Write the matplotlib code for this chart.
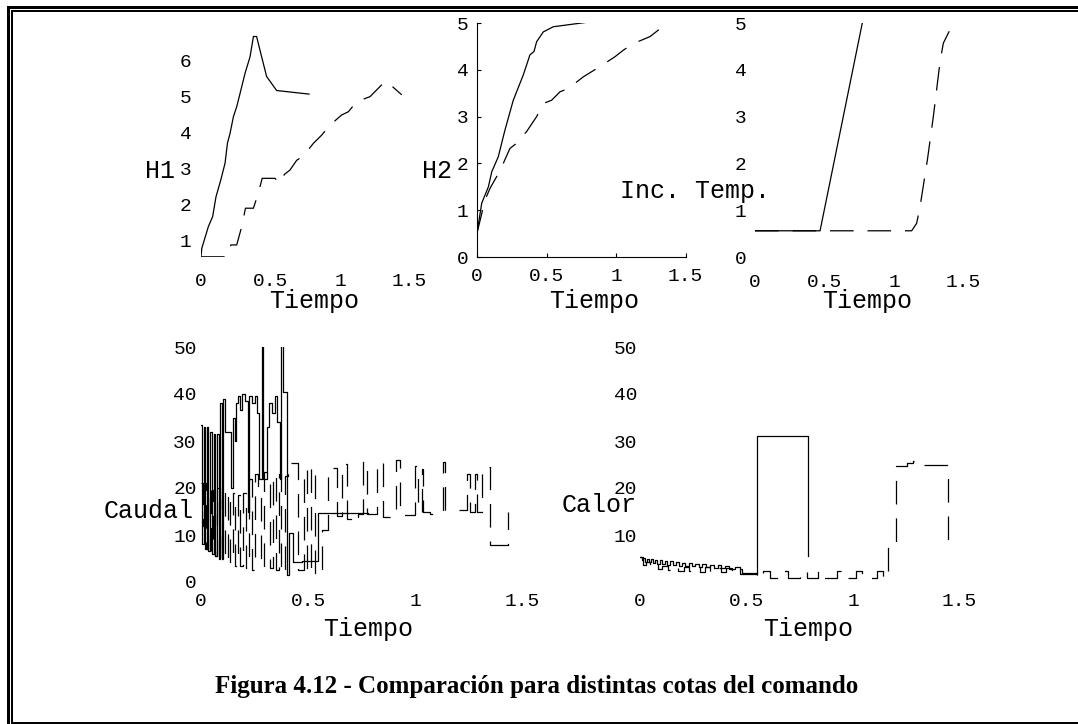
import matplotlib

matplotlib.use("Agg")

import matplotlib.pyplot as plt
from matplotlib.patches import Rectangle

W, H = 1078, 724
MONO = "Liberation Mono"
plt.rcParams["lines.scale_dashes"] = False

# ---- datos ----
x_ticks = [0, 0.5, 1, 1.5]
x_labels = ["0", "0.5", "1", "1.5"]

# H1
t_h1_a = [0.0, 0.006, 0.053, 0.084, 0.108, 0.142, 0.173, 0.19, 0.209, 0.233,
          0.257, 0.281, 0.317, 0.353, 0.377, 0.40, 0.436, 0.472, 0.544, 0.777]
h1_a = [0.56, 0.80, 1.40, 1.68, 2.23, 2.69, 3.16, 3.71, 3.99, 4.45,
        4.73, 5.10, 5.66, 6.12, 6.68, 6.68, 6.12, 5.57, 5.18, 5.08]
t_h1_b = [0.0, 0.19, 0.215, 0.257, 0.293, 0.32, 0.377, 0.412, 0.44, 0.532,
          0.568, 0.60, 0.64, 0.688, 0.736, 0.808, 0.868, 0.928, 1.012, 1.060,
          1.12, 1.216, 1.324, 1.336, 1.444]
h1_b = [0.56, 0.56, 0.89, 0.89, 1.40, 1.91, 1.91, 2.32, 2.74, 2.74,
        2.60, 2.85, 2.97, 3.24, 3.36, 3.71, 3.94, 4.22, 4.50, 4.59,
        4.87, 5.01, 5.43, 5.43, 5.06]

# H2
t_h2_a = [0.0, 0.034, 0.082, 0.106, 0.153, 0.189, 0.201, 0.261, 0.333, 0.381,
          0.41, 0.429, 0.477, 0.549, 0.777]
h2_a = [0.51, 1.15, 1.50, 1.82, 2.14, 2.57, 2.71, 3.35, 3.89, 4.32,
        4.39, 4.60, 4.81, 4.92, 5.01]
t_h2_b = [0.0, 0.058, 0.094, 0.142, 0.189, 0.237, 0.285, 0.357, 0.429, 0.477,
          0.537, 0.597, 0.657, 0.765, 0.885, 0.993, 1.053, 1.125, 1.245, 1.305, 1.388]
h2_b = [0.51, 1.22, 1.47, 1.72, 2.00, 2.32, 2.43, 2.68, 3.00, 3.28,
        3.35, 3.53, 3.60, 3.85, 4.07, 4.28, 4.42, 4.56, 4.71, 4.85, 4.96]

# Inc. Temp.
t_temp_a = [0.0, 0.468, 0.772]
temp_a = [0.56, 0.56, 5.0]
t_temp_b = [0.0, 1.127, 1.163, 1.187, 1.24, 1.283, 1.331, 1.355, 1.427]
temp_b = [0.56, 0.56, 0.72, 1.07, 2.07, 3.0, 4.17, 4.57, 5.0]

# Caudal (escalones)
t_caudal_a = [0.000, 0.006, 0.012, 0.020, 0.027, 0.035, 0.043, 0.051, 0.059, 0.067,
              0.075, 0.083, 0.089, 0.097, 0.103, 0.112, 0.140, 0.150, 0.158, 0.165,
              0.172, 0.182, 0.192, 0.205, 0.218, 0.224, 0.236, 0.250, 0.262, 0.270,
              0.286, 0.292, 0.310, 0.320, 0.330, 0.345, 0.355, 0.370, 0.376, 0.384,
              0.404, 0.410, 0.430, 0.470, 0.545, 0.779]
caudal_a = [33.5, 8, 33, 7, 33, 6.5, 32, 6, 31.5, 5.5,
            31.5, 5, 38, 5, 39, 32, 20, 35, 30, 38,
            39.5, 36.5, 40, 38.5, 15, 39.5, 38, 39.5, 36, 22,
            50.5, 22, 33, 38, 36, 39.5, 34, 22, 50.5, 40.5,
            1.5, 10.5, 4.3, 4.5, 14.6, 14.6]
t_caudal_b = [0.000, 0.008, 0.016, 0.025, 0.035, 0.045, 0.055, 0.066, 0.077, 0.088,
              0.100, 0.112, 0.124, 0.136, 0.148, 0.160, 0.172, 0.184, 0.198, 0.212,
              0.226, 0.240, 0.254, 0.266, 0.280, 0.296, 0.310, 0.322, 0.336, 0.350,
              0.364, 0.376, 0.392, 0.405, 0.420, 0.452, 0.470, 0.480, 0.495, 0.513,
              0.535, 0.567, 0.595, 0.634, 0.657, 0.681, 0.704, 0.735, 0.759, 0.774,
              0.821, 0.852, 0.911, 0.930, 1.000, 1.015, 1.031, 1.039, 1.070, 1.102,
              1.133, 1.140, 1.242, 1.255, 1.280, 1.290, 1.312, 1.350, 1.436]
caudal_b = [21, 12, 21, 7, 20, 6.5, 19.5, 5.5, 20, 5,
            19.5, 4.5, 19, 4, 19, 3.5, 18.5, 3.5, 19, 3,
            22, 2.5, 23, 19.5, 3, 23.5, 22.5, 3, 23, 2.5,
            23, 2, 22.5, 23, 25.4, 2.5, 2.5, 24, 2, 24.5,
            1.5, 11, 24.2, 14, 25.2, 13.5, 12.8, 14.5, 25.7, 14.5,
            25.5, 13.8, 26, 14.3, 24.6, 15, 24, 14.8, 14.4, 14.8,
            25.5, 15.3, 23, 15, 23, 15, 24.5, 7.9, 15]

# Calor (escalones)
t_calor_a = [0.000, 0.008, 0.016, 0.024, 0.032, 0.040, 0.050, 0.060, 0.070, 0.080,
             0.092, 0.104, 0.116, 0.128, 0.140, 0.154, 0.168, 0.182, 0.196, 0.212,
             0.228, 0.244, 0.260, 0.276, 0.292, 0.310, 0.328, 0.346, 0.364, 0.382,
             0.400, 0.420, 0.445, 0.470, 0.548, 0.787]
calor_a = [5.4, 4.6, 5.2, 4.3, 5.0, 4.2, 4.9, 4.0, 4.7, 3.9,
           4.6, 3.8, 4.5, 3.7, 4.4, 3.6, 4.3, 3.5, 4.1, 3.4,
           4.0, 3.3, 3.9, 3.2, 3.8, 3.1, 3.7, 3.0, 3.6, 2.9,
           3.4, 2.8, 3.1, 1.6, 31.1, 5.5]
t_calor_b = [0.000, 0.012, 0.030, 0.045, 0.065, 0.085, 0.105, 0.130, 0.155, 0.180,
             0.205, 0.230, 0.255, 0.280, 0.305, 0.330, 0.355, 0.380, 0.405, 0.430,
             0.455, 0.480, 0.550, 0.576, 0.610, 0.665, 0.696, 0.751, 0.782, 0.834,
             0.860, 0.923, 0.955, 1.014, 1.040, 1.111, 1.142, 1.166, 1.200, 1.252,
             1.283, 1.330, 1.447]
calor_b = [5.4, 3.6, 4.2, 3.1, 3.8, 2.8, 3.5, 2.6, 3.3, 2.4,
           3.2, 2.3, 3.1, 2.2, 3.1, 2.2, 3.0, 2.1, 3.0, 2.0,
           2.8, 1.9, 0.9, 2.4, 0.9, 2.4, 0.9, 2.4, 0.9, 2.4,
           0.9, 2.4, 0.9, 2.4, 0.9, 2.4, 0.9, 8.4, 24.7, 25.4,
           25.7, 24.9, 6.4]

LW = 0.9
DASH = (0, (17, 10))

fig = plt.figure(figsize=(W / 100, H / 100), dpi=100)
fig.patch.set_facecolor("white")


def panel(x0, x1, y_top, y_bot):
    return fig.add_axes([x0 / W, 1 - y_bot / H, (x1 - x0) / W, (y_bot - y_top) / H])


def estilo(ax, yticks, xpad, ypad, ejes=False):
    ax.set_xticks(x_ticks, x_labels)
    ax.set_yticks(yticks, [str(v) for v in yticks])
    for s in ["top", "right"]:
        ax.spines[s].set_visible(False)
    for s in ["left", "bottom"]:
        ax.spines[s].set_visible(ejes)
        ax.spines[s].set_linewidth(0.8)
    if ejes:
        ax.tick_params(axis="both", direction="in", length=3, width=0.8)
    else:
        ax.tick_params(axis="both", length=0)
    ax.tick_params(axis="both", labelsize=14, labelfontfamily=MONO)
    ax.tick_params(axis="x", pad=xpad)
    ax.tick_params(axis="y", pad=ypad)
    ax.patch.set_alpha(0)


def etiqueta(x, y, s, size=18, **kw):
    fig.text(x / W, 1 - y / H, s, fontsize=size, fontfamily=MONO,
             ha="center", va="baseline", **kw)


# H1
ax1 = panel(201, 409.5, 34, 256.8)
ax1.plot(t_h1_a, h1_a, color="black", lw=LW)
ax1.plot(t_h1_b, h1_b, color="black", lw=LW, linestyle=DASH)
ax1.set_xlim(0, 1.5)
ax1.set_ylim(0.56, 6.75)
estilo(ax1, [1, 2, 3, 4, 5, 6], xpad=12, ypad=7)
etiqueta(160, 178, "H1")
etiqueta(314, 308, "Tiempo")

# H2
ax2 = panel(477, 685.5, 23, 257)
ax2.plot(t_h2_a, h2_a, color="black", lw=LW)
ax2.plot(t_h2_b, h2_b, color="black", lw=LW, linestyle=DASH)
ax2.set_xlim(0, 1.5)
ax2.set_ylim(0, 5)
estilo(ax2, [0, 1, 2, 3, 4, 5], xpad=8, ypad=6, ejes=True)
etiqueta(437, 178, "H2")
etiqueta(594, 308, "Tiempo")

# Inc. Temp.
ax3 = panel(755, 963.5, 23, 257)
ax3.plot(t_temp_a, temp_a, color="black", lw=LW)
ax3.plot(t_temp_b, temp_b, color="black", lw=LW, linestyle=DASH)
ax3.set_xlim(0, 1.5)
ax3.set_ylim(0, 5)
estilo(ax3, [0, 1, 2, 3, 4, 5], xpad=12, ypad=6)
etiqueta(695, 198, "Inc. Temp.")
etiqueta(867, 308, "Tiempo")

# Caudal
ax4 = panel(201, 522, 347, 582)
ax4.step(t_caudal_a, caudal_a, where="post", color="black", lw=LW)
ax4.step(t_caudal_b, caudal_b, where="post", color="black", lw=LW, linestyle=DASH)
ax4.set_xlim(0, 1.5)
ax4.set_ylim(0, 50)
estilo(ax4, [0, 10, 20, 30, 40, 50], xpad=8, ypad=3)
etiqueta(149, 518, "Caudal")
etiqueta(368, 636, "Tiempo")

# Calor
ax5 = panel(640, 959.5, 347, 582)
ax5.step(t_calor_a, calor_a, where="post", color="black", lw=LW)
ax5.step(t_calor_b, calor_b, where="post", color="black", lw=LW, linestyle=DASH)
ax5.set_xlim(0, 1.5)
ax5.set_ylim(0, 50)
estilo(ax5, [10, 20, 30, 40, 50], xpad=8, ypad=2)
etiqueta(599, 512, "Calor")
etiqueta(808, 636, "Tiempo")

# pie de figura
fig.text(537 / W, 1 - 693 / H,
         "Figura 4.12 - Comparación para distintas cotas del comando",
         fontsize=18, fontfamily="Liberation Serif", fontweight="bold",
         ha="center", va="baseline")

# marco doble
for x0, y0, x1, y1 in [(7, 6, 10, 724), (7, 6, W, 9), (11, 10, 13, 724),
                       (11, 10, W, 12), (11, 722, W, 724)]:
    fig.patches.append(Rectangle((x0 / W, 1 - y1 / H), (x1 - x0) / W, (y1 - y0) / H,
                                 transform=fig.transFigure, facecolor="black",
                                 edgecolor="none"))

fig.savefig("out.png", dpi=100, facecolor="white")
